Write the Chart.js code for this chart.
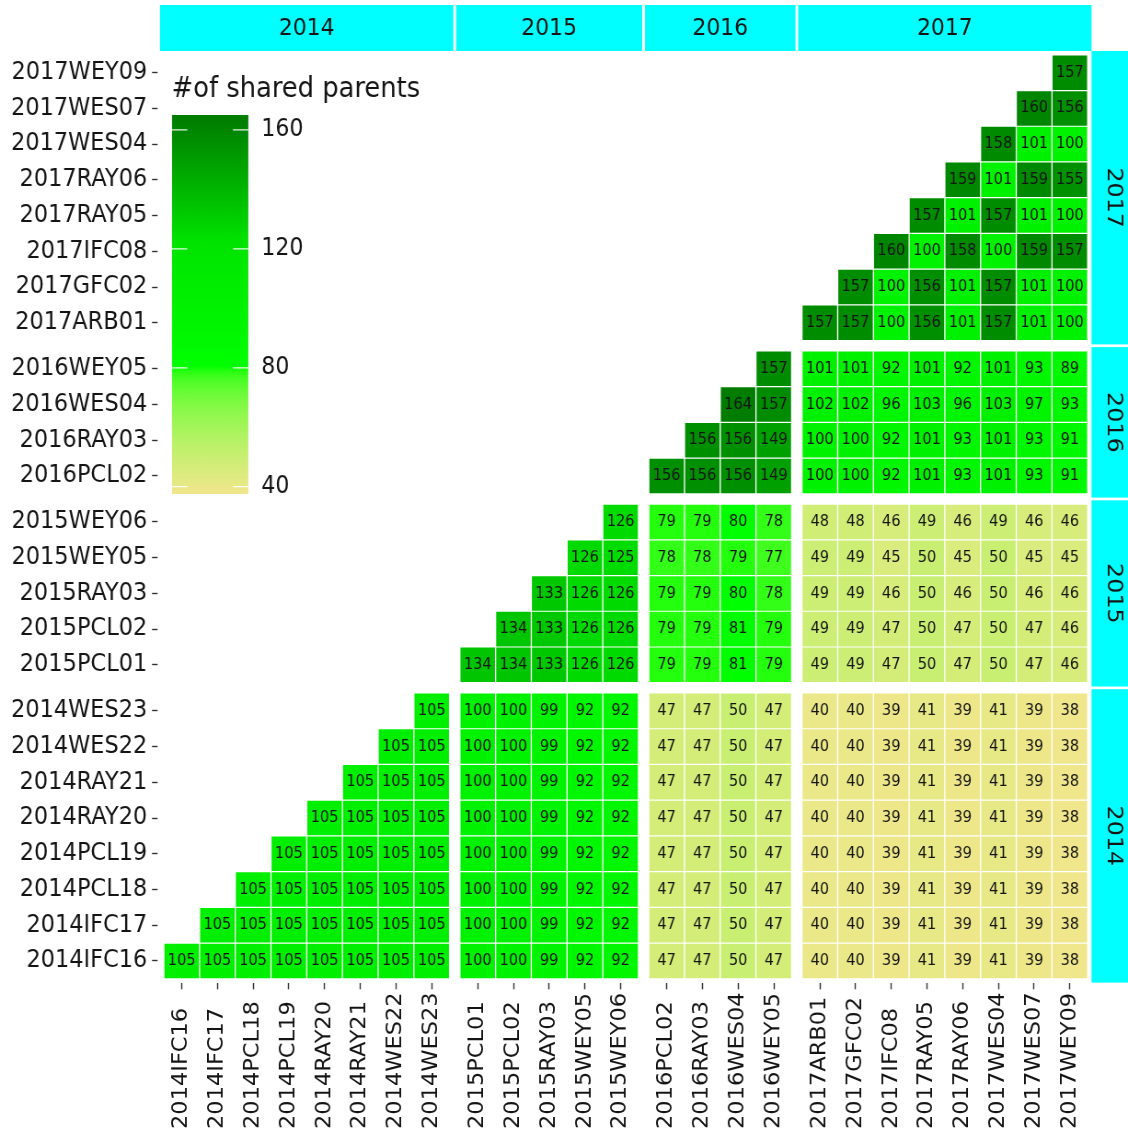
<!DOCTYPE html>
<html>
<head>
<meta charset="utf-8">
<script src="https://cdn.jsdelivr.net/npm/chart.js@4/dist/chart.umd.min.js"></script>
<style>
  html, body { margin: 0; padding: 0; background: #ffffff; overflow: hidden; }
  canvas { display: block; }
</style>
</head>
<body>
<canvas id="heat" width="1226" height="1133" style="width:1128px;height:1133px"></canvas>
<script>
// ---- data -------------------------------------------------------------
const sampleLabels = [
  '2014IFC16', '2014IFC17', '2014PCL18', '2014PCL19', '2014RAY20', '2014RAY21', '2014WES22', '2014WES23',
  '2015PCL01', '2015PCL02', '2015RAY03', '2015WEY05', '2015WEY06',
  '2016PCL02', '2016RAY03', '2016WES04', '2016WEY05',
  '2017ARB01', '2017GFC02', '2017IFC08', '2017RAY05', '2017RAY06', '2017WES04', '2017WES07', '2017WEY09'
];
const yearLabels = ['2014', '2015', '2016', '2017'];
const yearSizes = [8, 5, 4, 8];

// each row lists shared parents from the diagonal to the last sample
const rows2014 = [
  [105, 105, 105, 105, 105, 105, 105, 105, 100, 100, 99, 92, 92, 47, 47, 50, 47, 40, 40, 39, 41, 39, 41, 39, 38],
  [105, 105, 105, 105, 105, 105, 105, 100, 100, 99, 92, 92, 47, 47, 50, 47, 40, 40, 39, 41, 39, 41, 39, 38],
  [105, 105, 105, 105, 105, 105, 100, 100, 99, 92, 92, 47, 47, 50, 47, 40, 40, 39, 41, 39, 41, 39, 38],
  [105, 105, 105, 105, 105, 100, 100, 99, 92, 92, 47, 47, 50, 47, 40, 40, 39, 41, 39, 41, 39, 38],
  [105, 105, 105, 105, 100, 100, 99, 92, 92, 47, 47, 50, 47, 40, 40, 39, 41, 39, 41, 39, 38],
  [105, 105, 105, 100, 100, 99, 92, 92, 47, 47, 50, 47, 40, 40, 39, 41, 39, 41, 39, 38],
  [105, 105, 100, 100, 99, 92, 92, 47, 47, 50, 47, 40, 40, 39, 41, 39, 41, 39, 38],
  [105, 100, 100, 99, 92, 92, 47, 47, 50, 47, 40, 40, 39, 41, 39, 41, 39, 38]
];
const rows2015 = [
  [134, 134, 133, 126, 126, 79, 79, 81, 79, 49, 49, 47, 50, 47, 50, 47, 46],
  [134, 133, 126, 126, 79, 79, 81, 79, 49, 49, 47, 50, 47, 50, 47, 46],
  [133, 126, 126, 79, 79, 80, 78, 49, 49, 46, 50, 46, 50, 46, 46],
  [126, 125, 78, 78, 79, 77, 49, 49, 45, 50, 45, 50, 45, 45],
  [126, 79, 79, 80, 78, 48, 48, 46, 49, 46, 49, 46, 46]
];
const rows2016 = [
  [156, 156, 156, 149, 100, 100, 92, 101, 93, 101, 93, 91],
  [156, 156, 149, 100, 100, 92, 101, 93, 101, 93, 91],
  [164, 157, 102, 102, 96, 103, 96, 103, 97, 93],
  [157, 101, 101, 92, 101, 92, 101, 93, 89]
];
const rows2017 = [
  [157, 157, 100, 156, 101, 157, 101, 100],
  [157, 100, 156, 101, 157, 101, 100],
  [160, 100, 158, 100, 159, 157],
  [157, 101, 157, 101, 100],
  [159, 101, 159, 155],
  [158, 101, 100],
  [160, 156],
  [157]
];
const legendBreaks = [40, 80, 120, 160];
const legendTitle = '#of shared parents';

// ---- geometry ---------------------------------------------------------
const H_SCALE = 1128 / 1226;           // css px per canvas px, horizontally
const hx = v => v / H_SCALE;            // css x -> canvas x
const PLOT_LEFT = hx(160), PLOT_RIGHT = hx(1091.5);
const PLOT_TOP = 51, PLOT_BOTTOM = 982.6, STRIP_TOP = 5, STRIP_W = 46;
const EXPAND = 0.1064, SPACING = 0.0756, GAP = 0.034;
const FONT = '"DejaVu Sans", sans-serif';
const TEXT = '#141414';

const yearStart = yearSizes.map((n, g) => yearSizes.slice(0, g).reduce((a, b) => a + b, 0));
const yearOf = i => yearStart.filter(s => i >= s).length - 1;
const pos = i => i + 0.5 + EXPAND + yearOf(i) * (2 * EXPAND + SPACING);
const TOTAL = sampleLabels.length + yearSizes.length * 2 * EXPAND + (yearSizes.length - 1) * SPACING;
const panelRange = g => {
  const a = yearStart[g] + g * (2 * EXPAND + SPACING);
  return [a, a + yearSizes[g] + 2 * EXPAND];
};

// ---- colour scale (CIELAB interpolation) ---------------------------------
function rgbToLab(hex) {
  const n = parseInt(hex.slice(1), 16);
  const lin = c => { c /= 255; return c <= 0.04045 ? c / 12.92 : Math.pow((c + 0.055) / 1.055, 2.4); };
  const R = lin((n >> 16) & 255), G = lin((n >> 8) & 255), B = lin(n & 255);
  const X = (0.4124564 * R + 0.3575761 * G + 0.1804375 * B) / 0.95047;
  const Y = 0.2126729 * R + 0.7151522 * G + 0.0721750 * B;
  const Z = (0.0193339 * R + 0.1191920 * G + 0.9503041 * B) / 1.08883;
  const f = t => t > 216 / 24389 ? Math.cbrt(t) : (24389 / 27 * t + 16) / 116;
  const fx = f(X), fy = f(Y), fz = f(Z);
  return [116 * fy - 16, 500 * (fx - fy), 200 * (fy - fz)];
}
function labToCss([L, a, b]) {
  const fy = (L + 16) / 116, fx = fy + a / 500, fz = fy - b / 200;
  const inv = t => { const t3 = t * t * t; return t3 > 216 / 24389 ? t3 : (116 * t - 16) / (24389 / 27); };
  const X = inv(fx) * 0.95047, Y = inv(fy), Z = inv(fz) * 1.08883;
  const R = 3.2404542 * X - 1.5371385 * Y - 0.4985314 * Z;
  const G = -0.9692660 * X + 1.8760108 * Y + 0.0415560 * Z;
  const B = 0.0556434 * X - 0.2040259 * Y + 1.0572252 * Z;
  const gam = v => { v = Math.max(0, Math.min(1, v)); return Math.round(255 * (v <= 0.0031308 ? 12.92 * v : 1.055 * Math.pow(v, 1 / 2.4) - 0.055)); };
  return `rgb(${gam(R)},${gam(G)},${gam(B)})`;
}
const allRows = [...rows2014, ...rows2015, ...rows2016, ...rows2017];
const allValues = allRows.flat();
const vMin = Math.min(...allValues), vMax = Math.max(...allValues);
const rampColours = ['#F0E68C', '#00FF00', '#00E400', '#007C00'].map(rgbToLab);
function fillColor(v) {
  const t = Math.max(0, Math.min(1, (v - vMin) / (vMax - vMin))) * (rampColours.length - 1);
  const k = Math.min(Math.floor(t), rampColours.length - 2), f = t - k;
  const A = rampColours[k], B = rampColours[k + 1];
  return labToCss([0, 1, 2].map(j => A[j] + (B[j] - A[j]) * f));
}

// ---- cells --------------------------------------------------------------
const cells = [];
allRows.forEach((vals, r) => vals.forEach((v, k) => {
  const c = r + k;
  cells.push({ x: pos(c), y: [pos(r) - (0.5 - GAP / 2), pos(r) + (0.5 - GAP / 2)], v });
}));

// ---- plugins ------------------------------------------------------------
const cellText = {
  id: 'cellText',
  afterDatasetsDraw(chart) {
    const { ctx } = chart;
    const meta = chart.getDatasetMeta(0);
    ctx.save();
    ctx.font = `15.8px ${FONT}`;
    ctx.fillStyle = TEXT;
    ctx.textAlign = 'center';
    ctx.textBaseline = 'middle';
    meta.data.forEach((el, i) => {
      const p = el.getCenterPoint();
      ctx.fillText(String(chart.data.datasets[0].data[i].v), p.x, p.y);
    });
    ctx.restore();
  }
};

const facetStrips = {
  id: 'facetStrips',
  afterDraw(chart) {
    const { ctx, chartArea, scales: { x, y } } = chart;
    ctx.save();
    ctx.font = `23.8px ${FONT}`;
    ctx.textAlign = 'center';
    ctx.textBaseline = 'middle';
    yearLabels.forEach((lab, g) => {
      const [a, b] = panelRange(g);
      const x0 = x.getPixelForValue(a), x1 = x.getPixelForValue(b);
      ctx.fillStyle = '#00FFFF';
      ctx.fillRect(x0, STRIP_TOP, x1 - x0, chartArea.top - STRIP_TOP);
      ctx.fillStyle = TEXT;
      ctx.fillText(lab, (x0 + x1) / 2, (STRIP_TOP + chartArea.top) / 2 + 0.5);
      const y0 = y.getPixelForValue(b), y1 = y.getPixelForValue(a);
      ctx.fillStyle = '#00FFFF';
      ctx.fillRect(chartArea.right, y0, STRIP_W, y1 - y0);
      ctx.save();
      ctx.translate(chartArea.right + STRIP_W / 2 + 0.5, (y0 + y1) / 2);
      ctx.rotate(Math.PI / 2);
      ctx.fillStyle = TEXT;
      ctx.fillText(lab, 0, 0);
      ctx.restore();
    });
    ctx.restore();
  }
};

const bottomLabels = {
  id: 'bottomLabels',
  afterDraw(chart) {
    const { ctx } = chart;
    const sc = chart.scales.x;
    ctx.save();
    ctx.font = `22.5px ${FONT}`;
    ctx.fillStyle = TEXT;
    ctx.textAlign = 'left';
    ctx.textBaseline = 'middle';
    sc.ticks.forEach((t, i) => {
      ctx.save();
      ctx.translate(sc.getPixelForTick(i), 1129);
      ctx.rotate(-Math.PI / 2);
      ctx.fillText(sampleLabels[i], 0, 0);
      ctx.restore();
    });
    ctx.restore();
  }
};

const fillLegend = {
  id: 'fillLegend',
  afterDraw(chart) {
    const { ctx } = chart;
    const bx0 = hx(172), bx1 = hx(248.3), by0 = 115, by1 = 494;
    const yOf = v => 486.7 - (v - 40) * 2.973;
    const vOf = yy => 40 + (486.7 - yy) / 2.973;
    ctx.save();
    ctx.font = `28px ${FONT}`;
    ctx.fillStyle = TEXT;
    ctx.textAlign = 'left';
    ctx.textBaseline = 'alphabetic';
    ctx.fillText(legendTitle, hx(171.7), 97);
    const grad = ctx.createLinearGradient(0, by1, 0, by0);
    const steps = 80;
    for (let k = 0; k <= steps; k++) {
      const yy = by1 + (by0 - by1) * k / steps;
      grad.addColorStop(k / steps, fillColor(Math.max(vMin, Math.min(vMax, vOf(yy)))));
    }
    ctx.fillStyle = grad;
    ctx.fillRect(bx0, by0, bx1 - bx0, by1 - by0);
    const tl = (bx1 - bx0) * 0.2;
    ctx.strokeStyle = 'rgba(255,255,255,0.9)';
    ctx.lineWidth = 1.3;
    ctx.font = `24px ${FONT}`;
    ctx.fillStyle = TEXT;
    ctx.textBaseline = 'middle';
    legendBreaks.forEach(b => {
      const yy = yOf(b);
      ctx.beginPath();
      ctx.moveTo(bx0, yy); ctx.lineTo(bx0 + tl, yy);
      ctx.moveTo(bx1 - tl, yy); ctx.lineTo(bx1, yy);
      ctx.stroke();
      ctx.fillText(String(b), hx(261.3), yy);
    });
    ctx.restore();
  }
};

// ---- chart --------------------------------------------------------------
Chart.defaults.font.family = FONT;
const canvas = document.getElementById('heat');
new Chart(canvas, {
  type: 'bar',
  data: {
    datasets: [{
      data: cells,
      backgroundColor: ctx => fillColor(ctx.raw.v),
      borderWidth: 0,
      inflateAmount: 0,
      barPercentage: 1 - GAP,
      categoryPercentage: 1
    }]
  },
  options: {
    responsive: false,
    animation: false,
    devicePixelRatio: 1,
    events: [],
    layout: { padding: { left: 0, top: PLOT_TOP, right: canvas.width - PLOT_RIGHT, bottom: 0 } },
    plugins: { legend: { display: false }, tooltip: { enabled: false } },
    scales: {
      x: {
        type: 'linear', min: 0, max: TOTAL, offset: false, position: 'bottom',
        afterBuildTicks: sc => { sc.ticks = sampleLabels.map((_, i) => ({ value: pos(i) })); },
        afterFit: sc => { sc.height = canvas.height - PLOT_BOTTOM; },
        grid: { offset: false, drawOnChartArea: false, drawTicks: true, tickLength: 6.7, tickColor: '#333333', tickWidth: 1.4 },
        border: { display: false },
        ticks: { display: false, autoSkip: false }
      },
      y: {
        type: 'linear', min: 0, max: TOTAL, position: 'left',
        afterBuildTicks: sc => { sc.ticks = sampleLabels.map((_, i) => ({ value: pos(i) })); },
        afterFit: sc => { sc.width = PLOT_LEFT; },
        grid: { drawOnChartArea: false, drawTicks: true, tickLength: 8.7, tickColor: '#333333', tickWidth: 1.4, tickBorderDash: [6, 20] },
        border: { display: false },
        ticks: { autoSkip: false, padding: 5.2, color: TEXT, font: { size: 24.4 }, callback: (v, i) => sampleLabels[i] }
      }
    }
  },
  plugins: [cellText, facetStrips, bottomLabels, fillLegend]
});
</script>
</body>
</html>
